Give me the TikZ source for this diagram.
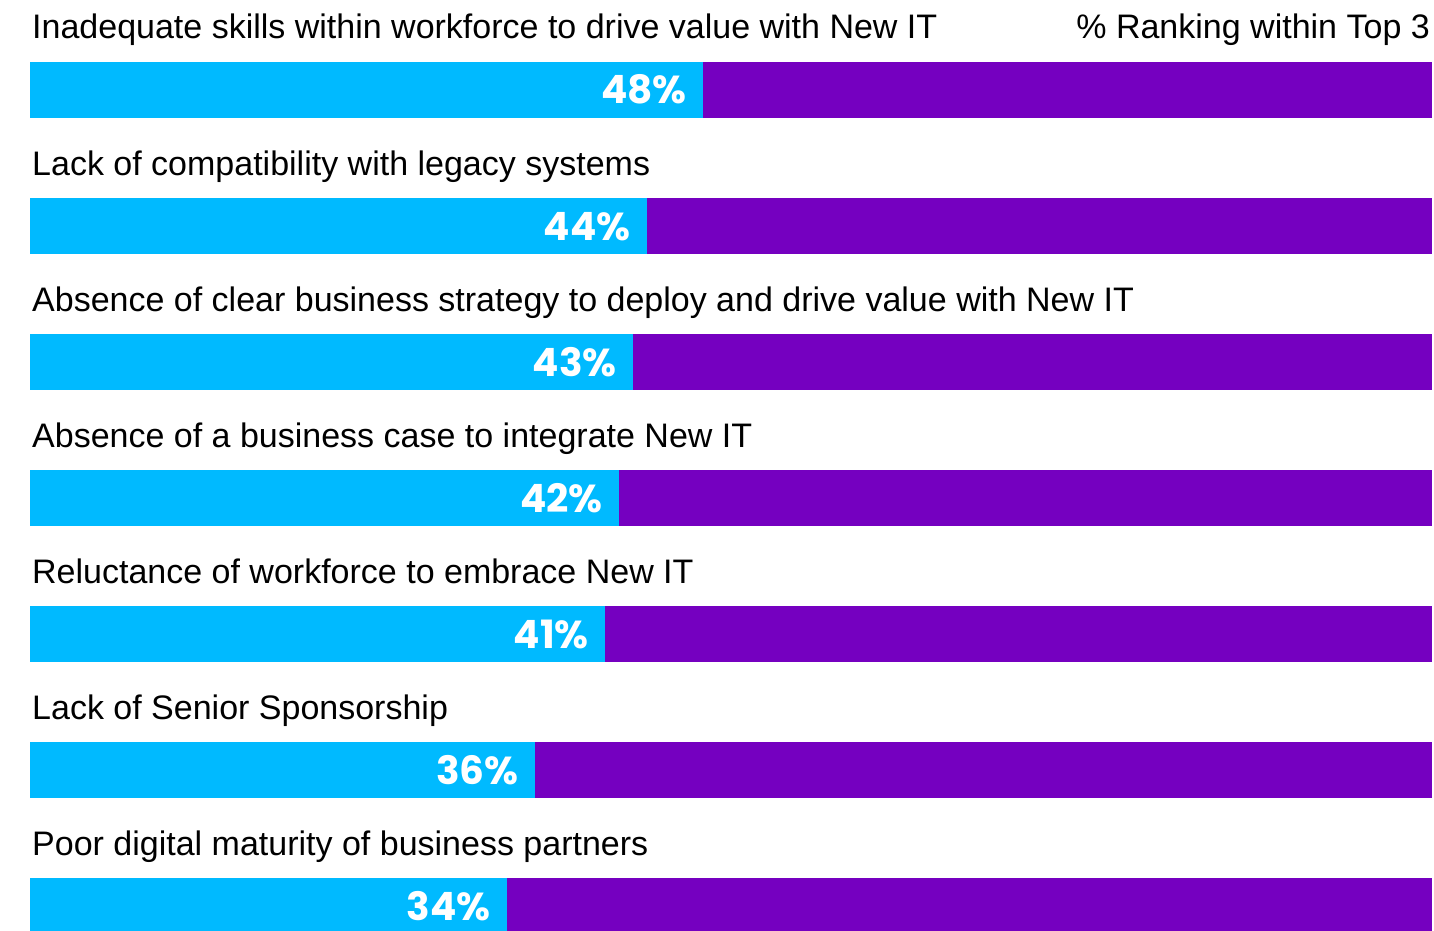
\documentclass[tikz,border=0pt]{standalone}
\usepackage{fontspec}
\setmainfont{Liberation Sans}
\newfontfamily\pctfont{Poppins}
\definecolor{barcyan}{HTML}{00BAFF}
\definecolor{barpurple}{HTML}{7500C0}
\begin{document}
\begin{tikzpicture}[x=1pt,y=-1pt,
  lbl/.style={anchor=base west,inner sep=0pt,font=\fontsize{34}{38}\selectfont,text=black},
  hdr/.style={anchor=base east,inner sep=0pt,font=\fontsize{34}{38}\selectfont,text=black},
  pct/.style={anchor=base east,inner sep=0pt,text depth=0pt,font=\pctfont\bfseries\fontsize{39}{41}\selectfont,text=white}]
\useasboundingbox (0,0) rectangle (1434,931);
\node[hdr] (hdr) at (1430,39) {\% Ranking within Top 3};
\foreach \i/\t/\p in {0/Inadequate skills within workforce to drive value with New IT/48,
  1/Lack of compatibility with legacy systems/44,
  2/Absence of clear business strategy to deploy and drive value with New IT/43,
  3/Absence of a business case to integrate New IT/42,
  4/Reluctance of workforce to embrace New IT/41,
  5/Lack of Senior Sponsorship/36,
  6/Poor digital maturity of business partners/34}{
  \pgfmathsetmacro{\yb}{39+136*\i}
  \pgfmathsetmacro{\yt}{62+136*\i}
  \pgfmathsetmacro{\ye}{min(118+136*\i,931)}
  \pgfmathsetmacro{\xs}{30+14.02*\p}
  \fill[barpurple] (\xs,\yt) rectangle (1432,\ye);
  \fill[barcyan] (30,\yt) rectangle (\xs,\ye);
  \node[lbl] (label\i) at (32,\yb) {\t};
  \node[pct] (pct\i) at (\xs-16,\yt+42) {\p\%};
}
\end{tikzpicture}
\end{document}
